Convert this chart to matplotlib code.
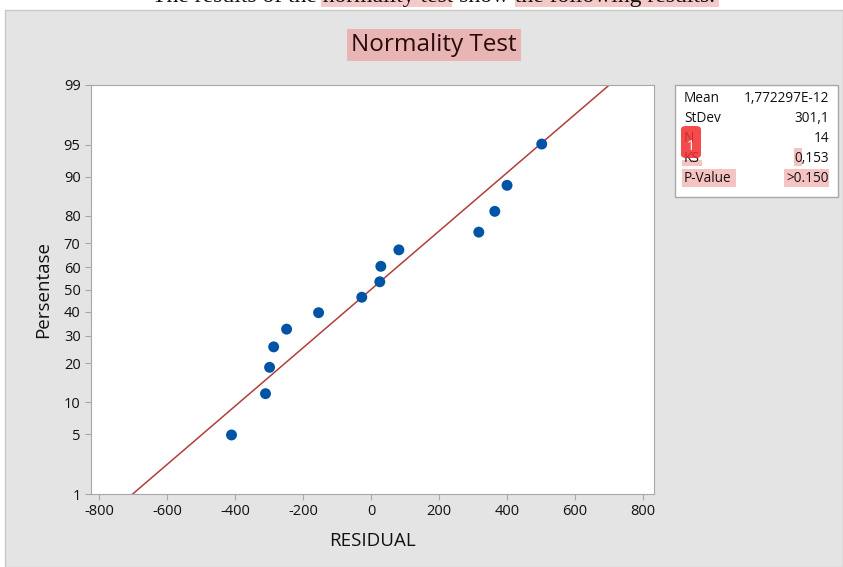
import matplotlib
matplotlib.use('Agg')
import matplotlib.pyplot as plt
from matplotlib.patches import Rectangle, FancyBboxPatch
from statistics import NormalDist
import numpy as np

# Data
residual = [-410, -310, -298, -286, -248, -154, -27, 26, 29, 82, 317, 364, 400, 502]
percent = [4.9, 11.8, 18.8, 25.7, 32.6, 39.6, 46.5, 53.5, 60.4, 67.4, 74.3, 81.3, 88.2, 95.1]
y_ticks = [1, 5, 10, 20, 30, 40, 50, 60, 70, 80, 90, 95, 99]
x_ticks = [-800, -600, -400, -200, 0, 200, 400, 600, 800]

MEAN = 1.772297e-12
STDEV = 301.1
stat_labels = ['Mean', 'StDev', 'N', 'KS', 'P-Value']
stat_values = ['1,772297E-12', '301,1', '14', '0,153', '>0.150']

W, H = 843, 567
FONT = ['Open Sans', 'DejaVu Sans']
ND = NormalDist()
_ppf = np.vectorize(ND.inv_cdf, otypes=[float])
_cdf = np.vectorize(ND.cdf, otypes=[float])

plt.rcParams['axes.unicode_minus'] = False


def px(x, y):
    """Pixel position (from top-left) to figure fraction."""
    return x / W, 1 - y / H


def fwd(p):
    p = np.clip(np.asarray(p, dtype=float) / 100.0, 1e-9, 1 - 1e-9)
    return _ppf(p)


def inv(z):
    return _cdf(np.asarray(z, dtype=float)) * 100.0


fig = plt.figure(figsize=(W / 100, H / 100), dpi=100, facecolor='white')

# grey panel
x0, y0 = px(5, H)
fig.patches.append(Rectangle((x0, y0), 1 - x0, 1 - 10 / H - y0, transform=fig.transFigure,
                             facecolor='#E4E4E4', edgecolor='#C8C8C8', lw=1, zorder=-5))

# cut-off sentence at the very top
for xa, xb in [(321, 452), (515, 719)]:
    a, b = px(xa, 7)
    fig.patches.append(Rectangle((a, b), (xb - xa) / W, 10 / H, transform=fig.transFigure,
                                 facecolor='#F6C9C9', edgecolor='none', zorder=-4))
fig.text(*px(434, 2), 'The results of the normality test show the following results.',
         ha='center', va='baseline', fontsize=17, family='Liberation Serif', color='#111111')

# title
fig.text(*px(434, 45), 'Normality Test', ha='center', va='center', fontsize=17.5,
         family=FONT, color='#2A0A0A',
         bbox=dict(facecolor='#E8B4B4', edgecolor='none', pad=3))

l, b = px(91, 494)
r, t = px(654, 85)
ax = fig.add_axes([l, b, r - l, t - b], zorder=2)
ax.set_facecolor('white')
ax.set_yscale('function', functions=(fwd, inv))

# fitted line
z = np.linspace(-3.5, 3.5, 200)
ax.plot(MEAN + STDEV * z, inv(z), color='#B03E3C', lw=1.1, zorder=2)
ax.scatter(residual, percent, s=62, color='#0054A6', zorder=3, edgecolors='none')

ax.set_ylim(1, 99)
ax.set_xlim(-823, 832)
ax.set_yticks(y_ticks)
ax.set_yticklabels([str(v) for v in y_ticks])
ax.set_xticks(x_ticks)
ax.yaxis.set_minor_locator(matplotlib.ticker.NullLocator())

for s in ax.spines.values():
    s.set_color('#A8A8A8')
ax.tick_params(axis='both', colors='#A8A8A8', length=4, labelcolor='#111111', labelsize=10.5)
for lab in ax.get_xticklabels() + ax.get_yticklabels():
    lab.set_family(FONT)

ax.set_xlabel('RESIDUAL', fontsize=13.5, family=FONT, color='#111111', labelpad=9)
ax.set_ylabel('Persentase', fontsize=13.5, family=FONT, color='#111111', labelpad=8)

# stats box
bx0, by0 = px(675, 197)
fig.patches.append(Rectangle((bx0, by0), (838 - 675) / W, (197 - 85) / H, transform=fig.transFigure,
                             facecolor='white', edgecolor='#A8A8A8', lw=1, zorder=1))

# highlights inside the box
for (xa, ya, xb, yb) in [(682, 169, 736, 187), (784, 169, 829, 187), (794, 148, 802, 166),
                         (682, 160, 702, 166)]:
    a, c = px(xa, yb)
    fig.patches.append(Rectangle((a, c), (xb - xa) / W, (yb - ya) / H, transform=fig.transFigure,
                                 facecolor='#F6C3C3', edgecolor='none', zorder=1))

rows_y = [99, 118, 138, 158, 178]
for lab, val, yy in zip(stat_labels, stat_values, rows_y):
    fig.text(*px(684, yy), lab, ha='left', va='center', fontsize=9.8, family=FONT,
             color='#111111', zorder=2)
    fig.text(*px(829, yy), val, ha='right', va='center', fontsize=9.8, family=FONT,
             color='#111111', zorder=2)

# red comment badge
a, c = px(681, 158)
fig.patches.append(FancyBboxPatch((a, c), 20 / W, 32 / H, transform=fig.transFigure,
                                  boxstyle='round,pad=0,rounding_size=0.006',
                                  facecolor='#F22B2B', edgecolor='none', alpha=0.85, zorder=3))
fig.text(*px(691, 147), '1', ha='center', va='center', fontsize=10, family=FONT,
         color='white', zorder=4)

fig.savefig('out.png', dpi=100, facecolor='white')
